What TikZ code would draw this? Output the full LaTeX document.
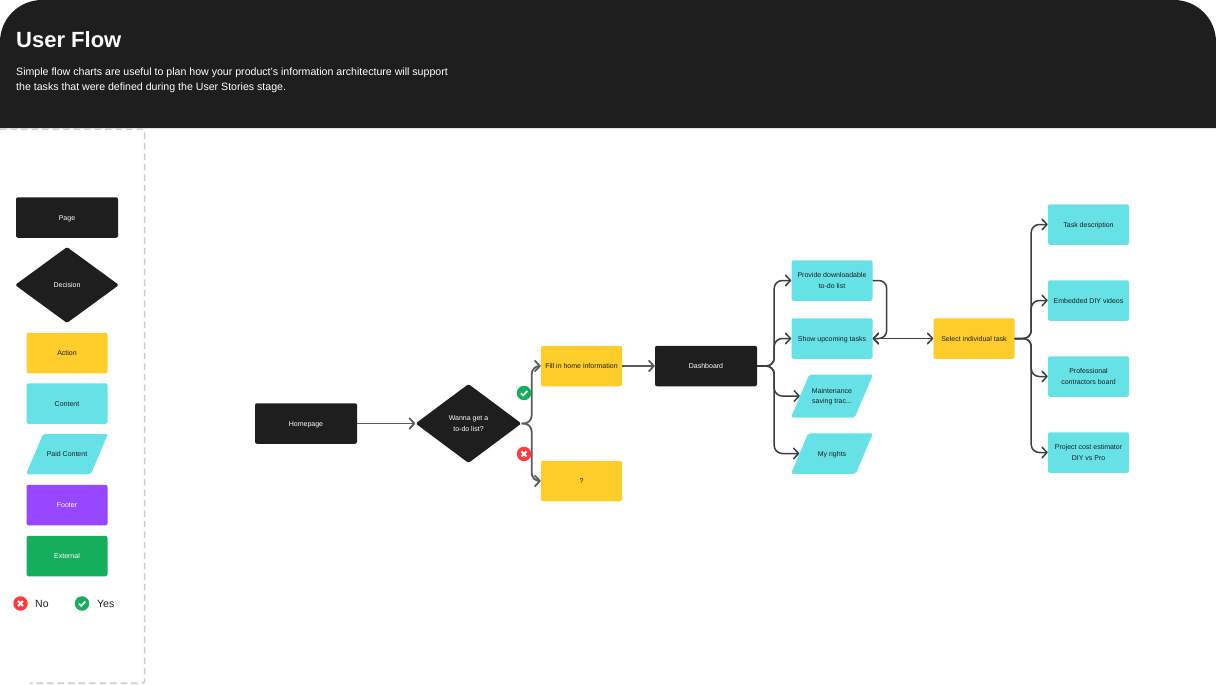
\documentclass[tikz,border=0pt]{standalone}
\usepackage{fontspec}
\setmainfont{Liberation Sans}
\usetikzlibrary{arrows.meta,shapes.geometric}
\definecolor{flowblack}{HTML}{1E1E1E}
\definecolor{flowyellow}{HTML}{FFCD29}
\definecolor{flowcyan}{HTML}{66E2E6}
\definecolor{flowpurple}{HTML}{9747FF}
\definecolor{flowgreen}{HTML}{14AE5C}
\definecolor{flowred}{HTML}{FF3B3F}
\definecolor{flowgrey}{HTML}{CDCDCD}
\definecolor{flowline}{HTML}{3E3E3E}
\definecolor{flowsoft}{HTML}{5C5C5C}
\newcommand{\lift}{\rule{0pt}{7.5pt}}

\begin{document}
\begin{tikzpicture}[x=1pt, y=1pt, node distance=50.5pt, font=\fontsize{7}{10.5}\selectfont, >={Straight Barb[length=5pt,width=10.5pt,round]}]
\tikzstyle{struts} = [execute at begin node={\rule{0pt}{8.5pt}}, execute at end node={\rule[-3pt]{0pt}{3pt}}]
\tikzstyle{twolines} = [execute at begin node={}, execute at end node={}]
\tikzstyle{sqr} = [rectangle, rounded corners=2pt, minimum width=81pt, minimum height=40.5pt, inner sep=0pt, align=center, text=flowblack, struts]
\tikzstyle{wide} = [sqr, minimum width=102pt, fill=flowblack, text=white]
\tikzstyle{dec} = [diamond, rounded corners=1.5pt, aspect=1.35, inner sep=0pt, align=center, fill=flowblack, text=white, struts]
\tikzstyle{para} = [trapezium, trapezium stretches body=true, trapezium left angle=67, trapezium right angle=113, rounded corners=2pt, minimum width=82pt, inner xsep=0pt, inner ysep=14.5pt, align=center, fill=flowcyan, text=flowblack, struts]
\tikzstyle{flow} = [->, line width=1.5pt, draw=flowline, rounded corners=8pt]
\tikzstyle{softflow} = [flow, draw=flowsoft, line width=1.8pt]
\tikzstyle{yesmark} = [circle, fill=flowgreen, minimum size=14.5pt, inner sep=0pt, path picture={\draw[white, line width=1.7pt] (path picture bounding box.center) +(-3.2,-.2) -- +(-.8,-2.4) -- +(3.3,2);}]
\tikzstyle{nomark} = [circle, fill=flowred, minimum size=14.5pt, inner sep=0pt, path picture={\draw[white, line width=1.8pt] (path picture bounding box.center) +(-2.6,-2.6) -- +(2.6,2.6) +(-2.6,2.6) -- +(2.6,-2.6);}]

\useasboundingbox (0,0) rectangle (1216,-685);

% header
\fill[flowblack] (0,-128) [rounded corners=42pt] -- (0,0) -- (1216,0) [sharp corners] -- (1216,-128) -- cycle;
\node (title) [anchor=west, inner sep=0pt, text=white, font=\fontsize{22}{26}\selectfont\bfseries] at (16,-39.5) {User Flow};
\node (intro) [anchor=north west, text=white, inner sep=0pt, align=left, font=\fontsize{10.6}{15}\selectfont] at (16,-68) {Simple flow charts are useful to plan how your product's information architecture will support\\the tasks that were defined during the User Stories stage.};

% legend
\draw[flowgrey, line width=1.5pt, dash pattern=on 6.5pt off 4pt, rounded corners=2pt] (0,-129) -- (144.5,-129) -- (144.5,-683) -- (30,-683);
\node (page) [wide] at (67,-217.5) {Page};
\node (decide) [dec, minimum width=104pt, minimum height=76pt, below of=page, yshift=-17pt] {Decision};
\node (action) [sqr, fill=flowyellow, below of=decide, yshift=-17.5pt] {Action};
\node (content) [sqr, fill=flowcyan, below of=action] {Content};
\node (paid) [para, below of=content] {Paid Content};
\node (footer) [sqr, fill=flowpurple, text=white, below of=paid, yshift=-.5pt] {Footer};
\node (external) [sqr, fill=flowgreen, text=white, below of=footer, yshift=-.5pt] {External};
\node (noicon) [nomark] at (20.5,-603.5) {};
\node (yesicon) [yesmark, right of=noicon, xshift=11pt] {};
\node (notext) [anchor=west, inner sep=0pt, text=flowblack, font=\fontsize{10.5}{12}\selectfont] at (35,-604) {No};
\node (yestext) [anchor=west, inner sep=0pt, text=flowblack, font=\fontsize{10.5}{12}\selectfont] at (97,-604) {Yes};

% flow
\node (home) [wide] at (306,-423.5) {Homepage};
\node (todo) [dec, twolines, minimum width=106pt, minimum height=79pt, right of=home, xshift=112pt] {\lift Wanna get a\\to-do list?};
\node (fill) [sqr, fill=flowyellow, right of=todo, xshift=62.5pt, yshift=57.5pt] {Fill in home information};
\node (unknown) [sqr, fill=flowyellow, below of=fill, yshift=-64.5pt] {?};
\node (dash) [wide, right of=fill, xshift=74pt] {Dashboard};
\node (provide) [sqr, twolines, fill=flowcyan] at (832,-280.5) {\lift Provide downloadable\\to-do list};
\node (show) [sqr, fill=flowcyan, below of=provide, yshift=-7.5pt] {Show upcoming tasks};
\node (maint) [para, twolines, inner ysep=11pt, below of=show, yshift=-7pt] {\lift Maintenance\\saving trac...};
\node (rights) [para, below of=maint, yshift=-7pt] {My rights};
\node (select) [sqr, fill=flowyellow, right of=show, xshift=91.5pt] {Select individual task};
\node (descr) [sqr, fill=flowcyan] at (1088.5,-224.5) {Task description};
\node (videos) [sqr, fill=flowcyan, below of=descr, yshift=-25.5pt] {Embedded DIY videos};
\node (board) [sqr, twolines, fill=flowcyan, below of=videos, yshift=-25.5pt] {\lift Professional\\contractors board};
\node (cost) [sqr, twolines, fill=flowcyan, below of=board, yshift=-25.5pt] {\lift Project cost estimator\\DIY vs Pro};

\draw[softflow] (home) -- (todo);
\draw[softflow] (todo.east) -- +(10,0) |- (fill.west);
\draw[softflow] (todo.east) -- +(10,0) |- (unknown.west);
\draw[softflow] (fill) -- (dash);

\draw[flow] (dash.east) -- +(17,0) |- (provide.west);
\draw[flow] (dash.east) -- +(17,0) |- (show.west);
\draw[flow] (dash.east) -- +(17,0) |- (maint.west);
\draw[flow] (dash.east) -- +(17,0) |- (rights.west);

\draw[flow] (provide.east) -- +(14,0) |- (show.east);
\draw[flow, <->] (show) -- (select);

\draw[flow] (select.east) -- +(16.5,0) |- (descr.west);
\draw[flow] (select.east) -- +(16.5,0) |- (videos.west);
\draw[flow] (select.east) -- +(16.5,0) |- (board.west);
\draw[flow] (select.east) -- +(16.5,0) |- (cost.west);

\node (yesflow) [yesmark] at (524,-393) {};
\node (noflow) [nomark] at (524,-454) {};

\end{tikzpicture}
\end{document}
